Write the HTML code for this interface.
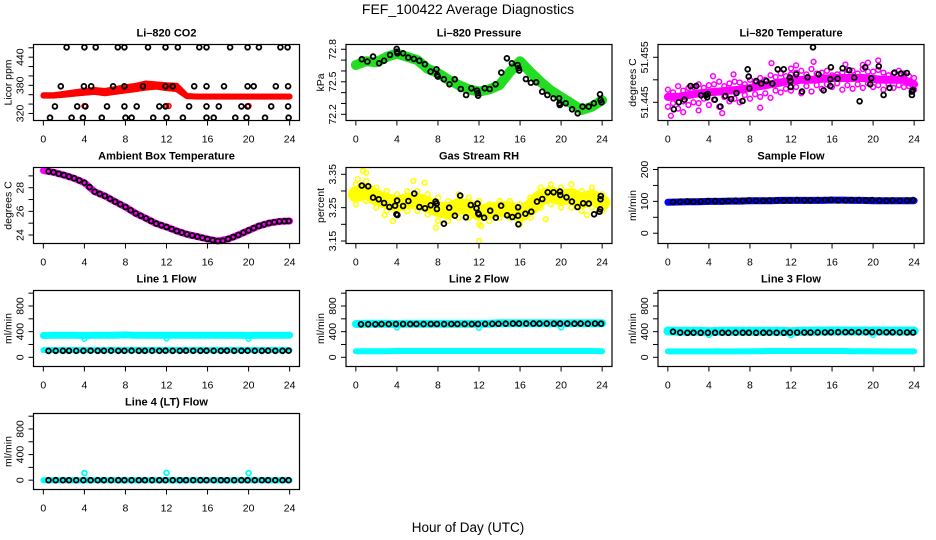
<!DOCTYPE html>
<html><head><meta charset="utf-8"><style>
html,body{margin:0;padding:0;background:#fff;}
svg{display:block;font-family:"Liberation Sans",Arial,sans-serif;}
</style></head><body>
<svg id="chart" width="936" height="540" viewBox="0 0 936 540" xmlns="http://www.w3.org/2000/svg">
<rect x="0" y="0" width="936" height="540" fill="#fff"/>
<text x="468" y="14" font-size="14" text-anchor="middle">FEF_100422  Average Diagnostics</text>
<text x="468" y="532" font-size="13.5" text-anchor="middle">Hour of Day (UTC)</text>
</svg>
<script>
// ---- data ----
const hourly=[0,1,2,3,4,5,6,7,8,9,10,11,12,13,14,15,16,17,18,19,20,21,22,23,24];
const hoursB=[0.5,1.2,1.9,2.5,3.2,3.9,4.6,5.3,5.9,6.6,7.3,7.9,8.6,9.3,9.9,10.6,11.3,11.9,12.6,13.3,13.9,14.6,15.3,15.9,16.6,17.3,17.9,18.6,19.3,19.9,20.6,21.3,21.9,22.6,23.3,23.9];
const xTicks=[0,4,8,12,16,20,24];

// CO2
const co2Red=[358,358,360,362,364,366,363,366,369,372,375,377,374,372,357,356,356,356,356,356,356,356,356,356,356];
const co2RedUp=[360,360,363,366,369,371,369,373,377,380,385,383,381,380,358,357,357,357,357,357,357,357,357,357,357];
const co2RedOutH=[4,12,12.2,20];
const co2RedOutV=[336,336,336,336];
const co2H1=[2.27,4.0,5.1,7.25,7.9,10.2,11.9,13.1,15.2,15.9,18.2,19.9,21.0,23.1,23.8];
const co2V1=[461,461,461,461,461,461,461,461,461,461,461,461,461,461,461];
const co2H2=[1.7,3.95,4.66,6.8,7.9,9.7,11.9,12.6,14.7,15.9,17.6,19.9,20.5,22.65,23.85];
const co2V2=[378,378,378,378,378,378,378,378,378,378,378,378,378,378,378];
const co2H3=[1.13,3.3,4.1,6.2,7.9,9.1,11.3,11.9,14.2,15.9,17.1,19.3,19.9,22.2,23.85];
const co2V3=[335,335,335,335,335,335,335,335,335,335,335,335,335,335,335];
const co2H4=[0.65,2.75,3.85,5.7,8.0,8.6,10.7,12.0,13.6,15.9,16.6,18.7,19.8,21.6,23.9];
const co2V4=[311,311,311,311,311,311,311,311,311,311,311,311,311,311,311];

// Pressure
const presBand=[72.655,72.69,72.68,72.73,72.76,72.73,72.70,72.62,72.58,72.52,72.47,72.43,72.41,72.43,72.47,72.59,72.69,72.59,72.50,72.42,72.36,72.30,72.24,72.27,72.33];
const presH=[0.58,1.13,1.68,2.27,2.75,3.33,3.98,4.01,4.05,4.6,5.11,5.66,6.18,6.73,7.28,7.86,7.93,7.99,8.58,9.13,9.64,10.23,10.74,11.26,11.81,11.88,11.91,12.56,13.04,13.62,14.17,14.72,15.21,15.76,15.86,15.92,16.57,17.06,17.57,18.16,18.67,19.26,19.81,19.84,19.87,20.45,21.07,21.62,22.1,22.69,23.2,23.79,23.85,23.95];
const presV=[72.708,72.686,72.732,72.671,72.695,72.748,72.803,72.778,72.763,72.763,72.723,72.711,72.695,72.662,72.594,72.615,72.563,72.548,72.523,72.477,72.523,72.434,72.378,72.44,72.418,72.394,72.372,72.44,72.434,72.477,72.585,72.717,72.671,72.655,72.625,72.603,72.526,72.492,72.495,72.409,72.378,72.348,72.348,72.302,72.286,72.302,72.246,72.209,72.271,72.271,72.302,72.385,72.332,72.311];

// Li-820 temperature
const tmpBand=[51.4462,51.4462,51.4466,51.4470,51.4472,51.4474,51.4476,51.4478,51.4482,51.4486,51.4490,51.4494,51.4498,51.4500,51.4500,51.4502,51.4504,51.4504,51.4504,51.4504,51.4502,51.4500,51.4500,51.4500,51.4490];
const tmpUpper=[51.4478,51.4486,51.4482,51.4490,51.4488,51.4496,51.4492,51.4494,51.4500,51.4504,51.4510,51.4514,51.4512,51.4520,51.4524,51.4516,51.4510,51.4516,51.4520,51.4524,51.4518,51.4516,51.4514,51.4514,51.4504];
const tmpLower=[51.4440,51.4436,51.4444,51.4448,51.4444,51.4440,51.4452,51.4450,51.4458,51.4462,51.4460,51.4472,51.4476,51.4470,51.4474,51.4480,51.4484,51.4478,51.4480,51.4482,51.4484,51.4478,51.4482,51.4484,51.4478];
const tmpMidH=[0.5,1.5,2.5,3.5,4.5,5.5,6.5,7.5,8.5,9.5,10.5,11.5,12.5,13.5,14.5,15.5,16.5,17.5,18.5,19.5,20.5,21.5,22.5,23.5];
const tmpMidU=[51.4472,51.4476,51.4484,51.4482,51.4490,51.4486,51.4496,51.4490,51.4494,51.4500,51.4506,51.4508,51.4516,51.4512,51.4514,51.4520,51.4512,51.4522,51.4514,51.4518,51.4522,51.4510,51.4520,51.4508];
const tmpMidL=[51.4448,51.4452,51.4450,51.4458,51.4456,51.4462,51.4458,51.4466,51.4468,51.4470,51.4476,51.4480,51.4484,51.4486,51.4488,51.4490,51.4492,51.4488,51.4490,51.4492,51.4488,51.4490,51.4488,51.4486];
const tmpOutH=[0.3,1.5,5.3,4.4,6.4,10.1,12,12.5,14.2,17.3,19.0,19.5,20.5,3.0,9.0];
const tmpOutV=[51.4420,51.4428,51.4426,51.4508,51.4512,51.4537,51.4525,51.4532,51.4540,51.4534,51.4533,51.4538,51.4543,51.4432,51.4438];
const tmpH=[0.58,1.07,1.62,2.21,2.76,3.24,3.73,3.89,3.83,4.57,5.12,5.61,6.16,6.68,7.27,7.78,7.88,7.95,8.6,9.11,9.6,10.18,10.7,11.29,11.87,11.94,11.97,12.52,13.07,13.62,14.14,14.69,15.18,15.83,15.83,15.89,16.54,17.03,17.68,18.16,18.68,19.23,19.72,19.82,20.56,21.02,21.6,22.09,22.71,23.29,23.78,23.78,23.87];
const tmpV=[51.44344,51.445,51.44559,51.44863,51.44863,51.44656,51.44663,51.44685,51.44611,51.44559,51.44404,51.44641,51.44574,51.44707,51.4453,51.45233,51.4507,51.44811,51.44974,51.44915,51.44974,51.44915,51.45233,51.45233,51.45048,51.44974,51.44841,51.45122,51.44737,51.45056,51.45722,51.45122,51.44767,51.44863,51.45011,51.45278,51.45026,51.45256,51.45211,51.45048,51.44522,51.45278,51.449,51.45033,51.453,51.44663,51.44819,51.45159,51.45137,51.45152,51.44737,51.44663,51.44774];

// Ambient box temperature
const ambBand=[29.46,29.3,29.07,28.8,28.42,27.66,27.3,26.82,26.37,25.83,25.4,24.96,24.68,24.34,24.06,23.86,23.66,23.49,23.66,24.0,24.39,24.76,25.01,25.15,25.18];
const ambH=[0.5,1,1.5,2,2.5,3,3.5,4,4.5,5,5.5,6,6.5,7,7.5,8,8.5,9,9.5,10,10.5,11,11.5,12,12.5,13,13.5,14,14.5,15,15.5,16,16.5,17,17.5,18,18.5,19,19.5,20,20.5,21,21.5,22,22.5,23,23.5,23.9];
const ambV=[29.38,29.3,29.18,29.07,28.94,28.8,28.62,28.42,28.05,27.66,27.48,27.3,27.06,26.82,26.6,26.37,26.1,25.83,25.62,25.4,25.18,24.96,24.82,24.68,24.51,24.34,24.2,24.06,23.96,23.86,23.76,23.66,23.57,23.49,23.52,23.66,23.82,24.0,24.2,24.39,24.58,24.76,24.9,25.01,25.08,25.15,25.17,25.18];

// Gas stream RH
const rhBand=[3.29,3.30,3.28,3.27,3.26,3.27,3.27,3.26,3.245,3.24,3.255,3.25,3.235,3.24,3.245,3.245,3.23,3.25,3.28,3.29,3.28,3.285,3.27,3.28,3.265];
const rhUpper=[3.32,3.33,3.31,3.30,3.29,3.30,3.30,3.29,3.28,3.27,3.29,3.28,3.27,3.26,3.27,3.27,3.26,3.28,3.31,3.32,3.31,3.32,3.30,3.31,3.29];
const rhLower=[3.26,3.27,3.25,3.24,3.23,3.24,3.24,3.23,3.21,3.21,3.22,3.22,3.20,3.21,3.22,3.22,3.20,3.22,3.25,3.26,3.25,3.25,3.24,3.25,3.24];
const rhOutH=[0.7,1.0,7.8,12,12.2,5.6,6.7,3.6,18.5,2.8,0.2,22.5];
const rhOutV=[3.36,3.355,3.19,3.15,3.195,3.33,3.325,3.21,3.215,3.228,3.335,3.228];
const rhH=[0.58,1.2,1.68,2.23,2.75,3.27,3.82,4.02,3.95,4.05,4.6,5.12,5.7,6.19,6.74,7.29,7.77,7.87,7.9,8.58,9.1,9.65,10.17,10.72,11.2,11.76,11.85,11.92,11.98,12.5,13.09,13.64,14.15,14.74,15.25,15.81,15.81,15.84,16.52,17.1,17.65,18.17,18.69,19.27,19.89,19.92,20.53,21.05,21.6,22.15,22.7,23.22,23.74,23.81,23.84,23.87];
const rhV=[3.316,3.314,3.28,3.275,3.264,3.252,3.256,3.271,3.23,3.228,3.255,3.27,3.292,3.252,3.248,3.257,3.268,3.262,3.246,3.202,3.25,3.226,3.286,3.221,3.258,3.248,3.262,3.233,3.23,3.22,3.241,3.22,3.256,3.227,3.222,3.226,3.251,3.2,3.232,3.238,3.268,3.276,3.296,3.296,3.298,3.288,3.281,3.268,3.252,3.263,3.262,3.23,3.238,3.245,3.275,3.285];

// Sample flow
const sampleBand=[97,98,99,99,100,100,101,101,102,102,102,103,103,103,103,103,104,104,103,103,102,102,102,102,102];
const sampleBlack=[98,99,100,99,100,101,101,100,101,102,102,103,102,102,103,103,102,103,104,103,103,104,104,105,103,103,104,104,103,104,103,102,103,102,103,104];

// Line flows
const line1Upper=[340,345,345,345,340,345,345,345,350,345,345,345,345,345,345,345,345,345,345,345,340,345,345,345,345];
const line1Lower=[112,112,112,112,112,112,112,112,112,112,112,112,112,112,112,112,112,112,112,112,112,112,112,112,112];
const line1Black=[100,101,102,102,101,102,103,102,102,103,102,102,103,102,102,103,102,103,102,102,103,102,102,103,102,102,103,102,102,103,102,102,103,102,102,103];
const line1DipH=[4,12,20];
const line1DipV=[290,295,290];
const line2Upper=[520,522,522,522,520,522,522,522,522,522,522,522,522,522,530,530,532,532,532,530,528,530,530,530,530];
const line2Lower=[95,95,95,95,98,98,98,98,98,98,98,98,98,98,98,98,98,98,98,98,98,98,98,98,95];
const line2Black=[515,516,515,518,517,520,519,518,519,518,520,519,518,519,520,519,518,520,521,522,522,524,525,526,526,525,526,525,524,526,525,524,525,524,525,524];
const line2DipH=[4,12,20];
const line2DipV=[465,460,465];
const line3Upper=[410,405,405,405,400,405,405,405,405,405,405,405,400,405,405,410,410,410,410,410,410,410,410,410,410];
const line3Lower=[92,92,92,92,92,92,92,92,95,95,98,98,98,98,98,98,98,98,95,95,95,92,92,92,92];
const line3Black=[400,385,382,383,382,383,384,383,382,383,384,383,382,383,384,383,382,385,386,387,387,388,389,390,391,392,393,392,391,392,391,390,390,389,388,387];
const line3DipH=[4,12,20];
const line3DipV=[350,345,350];
const line4Cyan=[0,0,0,0,0,0,0,0,0,0,0,0,0,0,0,0,0,0,0,0,0,0,0,0,0];
const line4Black=[0,0,0,0,0,0,0,0,0,0,0,0,0,0,0,0,0,0,0,0,0,0,0,0,0,0,0,0,0,0,0,0,0,0,0,0];
const line4OutH=[4,12,20];
const line4OutV=[110,115,110];

// ---- drawing ----
const NS='http://www.w3.org/2000/svg';
const svg=document.getElementById('chart');
const COLS=[33.5,346,658], ROWS=[44.5,167.5,290.5,413.5], W=266, H=76;

function el(tag,attrs,parent){const e=document.createElementNS(NS,tag);for(const k in attrs)e.setAttribute(k,attrs[k]);parent.appendChild(e);return e;}

function panel(ci,ri,name,title,ylab,ylo,yhi,ticks,labels){
  const L=COLS[ci],T=ROWS[ri],B=T+H,R=L+W;
  const g=el('g',{},svg);
  
  
  const x=h=>L+(h+0.96)/25.92*W;
  const y=v=>B-(v-ylo)/(yhi-ylo)*H;
  const t=el('text',{x:(L+R)/2,y:T-8,'font-size':11,'font-weight':'bold','text-anchor':'middle'},g);
  t.textContent=title;
  
  
  const yl=el('text',{transform:`translate(${L-22},${T+H/2}) rotate(-90)`,'font-size':10.5,'text-anchor':'middle'},g);
  yl.textContent=ylab;
  
  
  ticks.forEach((v,i)=>{
    const tk=el('line',{x1:L-5,x2:L,y1:y(v),y2:y(v),stroke:'#000','stroke-width':1},g);
    
    
    if(labels[i]!==''){
      const tl=el('text',{transform:`translate(${L-10},${y(v)}) rotate(-90)`,'font-size':10.5,'text-anchor':'middle'},g);
      tl.textContent=labels[i];
      
      
    }
  });
  xTicks.forEach(h=>{
    const tk=el('line',{x1:x(h),x2:x(h),y1:B,y2:B+5,stroke:'#000','stroke-width':1},g);
    
    
    const tl=el('text',{x:x(h),y:B+22,'font-size':10.5,'text-anchor':'middle'},g);
    tl.textContent=String(h);
    
    
  });
  const data=el('g',{},g);
  
  
  const box=el('rect',{x:L,y:T,width:W,height:H,fill:'none',stroke:'#000','stroke-width':1.2},g);
  
  
  return {x,y,g:data};
}
function band(p,hs,vs,color,w,name){
  const d=hs.map((h,i)=>(i?'L':'M')+p.x(h).toFixed(1)+' '+p.y(vs[i]).toFixed(1)).join(' ');
  const pa=el('path',{d:d,fill:'none',stroke:color,'stroke-width':w,'stroke-linejoin':'round','stroke-linecap':'round'},p.g);
  
  
}
function pts(p,hs,vs,color,name,sw){
  hs.forEach((h,i)=>{
    const c=el('circle',{cx:p.x(h).toFixed(1),cy:p.y(vs[i]).toFixed(1),r:2.4,fill:'none',stroke:color,'stroke-width':sw||1.5},p.g);
    
    
  });
}

// Panel 1 CO2
let p=panel(0,0,'co2','Li\u2013820 CO2','Licor ppm',305,467,[320,340,360,380,400,420,440,460],['320','','','380','','','440','']);
band(p,hourly,co2Red,'#ff0000',6,'co2-red-band');
band(p,hourly,co2RedUp,'#ff0000',5,'co2-red-upper-band');
pts(p,co2RedOutH,co2RedOutV,'#ff0000','co2-red-point');
pts(p,co2H1,co2V1,'#000','co2-black-point',1.8);
pts(p,co2H2,co2V2,'#000','co2-black-point',1.8);
pts(p,co2H3,co2V3,'#000','co2-black-point',1.8);
pts(p,co2H4,co2V4,'#000','co2-black-point',1.8);

// Panel 2 pressure
p=panel(1,0,'pressure','Li\u2013820 Pressure','kPa',72.143,72.844,[72.2,72.3,72.4,72.5,72.6,72.7,72.8],['72.2','','','72.5','','','72.8']);
band(p,hourly,presBand,'#22dd22',10,'pressure-green-band');
pts(p,presH,presV,'#000','pressure-black-point',1.8);

// Panel 3 temperature
p=panel(2,0,'li820-temperature','Li\u2013820 Temperature','degrees C',51.44096,51.45784,[51.445,51.450,51.455],['51.445','','51.455']);
band(p,hourly,tmpBand,'#ff00ff',8,'temperature-magenta-band');
pts(p,hourly,tmpUpper,'#ff00ff','temperature-magenta-point');
pts(p,hourly,tmpLower,'#ff00ff','temperature-magenta-point');
pts(p,tmpMidH,tmpMidU,'#ff00ff','temperature-magenta-point');
pts(p,tmpMidH,tmpMidL,'#ff00ff','temperature-magenta-point');
pts(p,tmpOutH,tmpOutV,'#ff00ff','temperature-magenta-point');
pts(p,tmpH,tmpV,'#000','temperature-black-point',1.8);

// Panel 4 ambient
p=panel(0,1,'ambient','Ambient Box Temperature','degrees C',23.28,29.71,[24,25,26,27,28,29],['24','','26','','28','']);
band(p,hourly,ambBand,'#ff00ff',7,'ambient-magenta-band');
pts(p,ambH,ambV,'#000','ambient-black-point',1.8);

// Panel 5 RH
p=panel(1,1,'rh','Gas Stream RH','percent',3.1425,3.3704,[3.15,3.20,3.25,3.30,3.35],['3.15','','3.25','','3.35']);
band(p,hourly,rhBand,'#ffff00',16,'rh-yellow-band');
pts(p,hourly,rhUpper,'#ffff00','rh-yellow-point');
pts(p,hourly,rhLower,'#ffff00','rh-yellow-point');
pts(p,rhOutH,rhOutV,'#ffff00','rh-yellow-point');
pts(p,rhH,rhV,'#000','rh-black-point',1.8);

// Panel 6 sample flow
p=panel(2,1,'sample-flow','Sample Flow','ml/min',-32.2,206.3,[0,50,100,150,200],['0','','100','','200']);
band(p,hourly,sampleBand,'#0000ff',7,'sample-blue-band');
pts(p,hoursB,sampleBlack,'#000','sample-black-point',1.8);

const flowTicks=[0,200,400,600,800,1000], flowLabels=['0','','400','','800',''];
// Line 1
p=panel(0,2,'line1','Line 1 Flow','ml/min',-143.5,1041.8,flowTicks,flowLabels);
band(p,hourly,line1Upper,'#00ffff',7,'line1-cyan-upper-band');
band(p,hourly,line1Lower,'#00ffff',6,'line1-cyan-lower-band');
pts(p,line1DipH,line1DipV,'#00ffff','line1-cyan-point');
pts(p,hoursB,line1Black,'#000','line1-black-point',1.8);
// Line 2
p=panel(1,2,'line2','Line 2 Flow','ml/min',-143.5,1041.8,flowTicks,flowLabels);
band(p,hourly,line2Upper,'#00ffff',8,'line2-cyan-upper-band');
band(p,hourly,line2Lower,'#00ffff',6,'line2-cyan-lower-band');
pts(p,line2DipH,line2DipV,'#00ffff','line2-cyan-point');
pts(p,hoursB,line2Black,'#000','line2-black-point',1.8);
// Line 3
p=panel(2,2,'line3','Line 3 Flow','ml/min',-143.5,1041.8,flowTicks,flowLabels);
band(p,hourly,line3Upper,'#00ffff',9,'line3-cyan-upper-band');
band(p,hourly,line3Lower,'#00ffff',6,'line3-cyan-lower-band');
pts(p,line3DipH,line3DipV,'#00ffff','line3-cyan-point');
pts(p,hoursB,line3Black,'#000','line3-black-point',1.8);
// Line 4
p=panel(0,3,'line4','Line 4 (LT) Flow','ml/min',-146,1042,flowTicks,flowLabels);
band(p,hourly,line4Cyan,'#00ffff',6,'line4-cyan-band');
pts(p,line4OutH,line4OutV,'#00ffff','line4-cyan-point',1.8);
pts(p,hoursB,line4Black,'#000','line4-black-point',1.8);
</script>
</body></html>
